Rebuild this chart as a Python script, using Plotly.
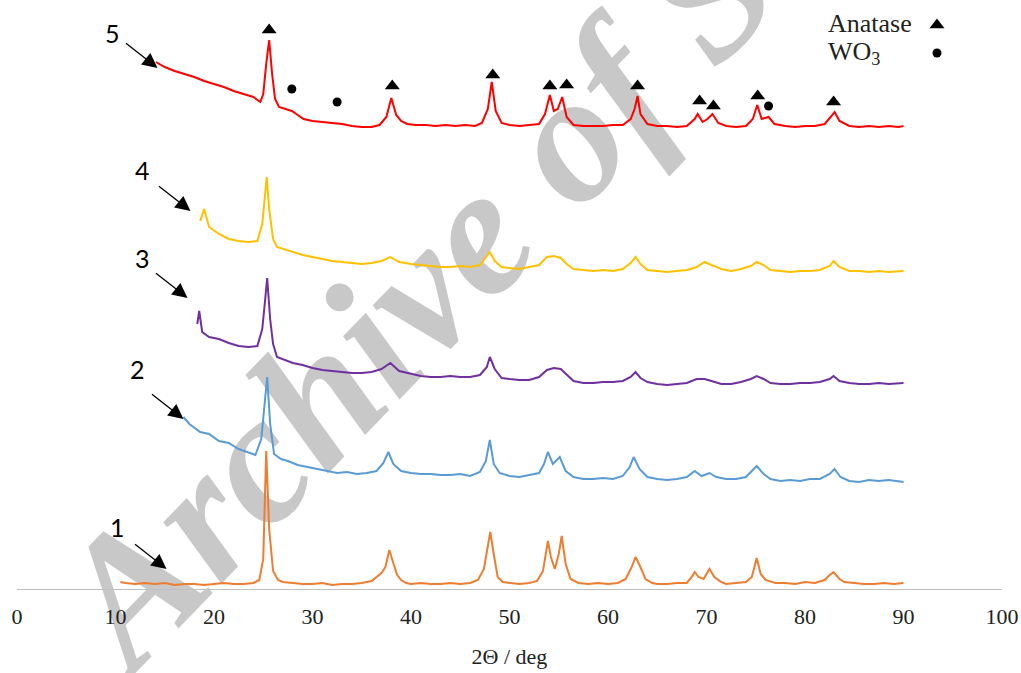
import plotly.graph_objects as go

# ---------------- data ----------------
x1 = [10.5, 11, 12, 13, 14, 15, 16, 17, 18, 19, 20, 21, 22, 23, 24, 24.6, 25.0, 25.3, 25.6, 26.0, 26.5, 27, 28, 29, 30,
      31, 32, 33, 34, 35, 36, 36.5, 37.0, 37.4, 37.8, 38.2, 38.6, 39.0, 39.5, 40, 41, 42, 43, 44, 45, 46, 46.8, 47.4,
      47.8, 48.05, 48.4, 48.8, 49.3, 50, 51, 52, 52.8, 53.4, 53.9, 54.2, 54.6, 55.0, 55.3, 55.7, 56.2, 57, 58, 59, 60,
      61, 61.8, 62.4, 62.8, 63.2, 63.8, 64.5, 65, 66, 67, 68, 68.5, 68.8, 69.2, 69.7, 70.3, 70.8, 71.5, 72, 73, 74,
      74.6, 75.1, 75.5, 76, 77, 78, 79, 80, 81, 82, 82.5, 82.9, 83.5, 84, 85, 86, 87, 88, 89, 90]
y1 = [7, 6, 5, 6, 5, 6, 4, 5, 5, 4, 5, 6, 5, 5, 6, 9, 30, 138, 60, 18, 9, 7, 6, 5, 5,
      6, 4, 5, 5, 6, 8, 12, 16, 22, 39, 26, 14, 9, 6, 5, 6, 5, 5, 6, 5, 6, 9, 20,
      45, 57, 35, 12, 7, 6, 5, 6, 8, 18, 48, 32, 20, 35, 53, 25, 10, 6, 5, 6, 5,
      6, 10, 22, 32, 24, 10, 6, 5, 5, 6, 6, 12, 17, 12, 10, 20, 12, 7, 5, 6, 7,
      12, 31, 15, 9, 6, 6, 5, 7, 6, 9, 14, 17, 10, 7, 6, 5, 5, 6, 5, 6]

x2 = [16.9, 17.5, 18.6, 19.5, 20.5, 21.5, 22.5, 23.5, 24.2, 24.8, 25.2, 25.4, 25.7, 26.1, 26.8, 27.5, 28.5, 29.5, 30.5,
      31.5, 32.5, 33.5, 34.5, 35.5, 36.5, 37.2, 37.7, 38.2, 39, 40, 41, 42, 43, 44, 45, 46, 47, 47.6, 48, 48.4, 49,
      50, 51, 52, 53, 53.5, 53.9, 54.4, 55.1, 55.7, 56.5, 57.5, 58.5, 59.5, 60.5, 61.5, 62.2, 62.6, 63.2, 64, 65, 66,
      67, 68, 68.8, 69.5, 70.3, 71, 72, 73, 74, 74.6, 75.1, 75.8, 76.5, 77.5, 78.5, 79.5, 80.5, 81.5, 82.5, 83, 83.6,
      84.5, 85.5, 86.5, 87.5, 88.5, 89.5, 90]
y2 = [172, 165, 157, 155, 148, 146, 140, 136, 134, 150, 190, 212, 165, 135, 130, 128, 124, 122, 120,
      118, 116, 117, 115, 116, 118, 126, 137, 125, 118, 116, 115, 115, 114, 114, 115, 113, 117, 128, 149, 125, 116,
      113, 112, 114, 116, 125, 137, 125, 132, 118, 112, 110, 110, 111, 110, 113, 122, 132, 120, 112, 110, 109,
      110, 112, 118, 113, 116, 112, 110, 110, 112, 118, 123, 115, 110, 108, 109, 108, 110, 110, 115, 120, 112,
      108, 107, 109, 108, 109, 108, 107]

x3 = [18.3, 18.5, 18.8, 19.5, 20.5, 21.5, 22.5, 23.5, 24.4, 24.9, 25.2, 25.4, 25.7, 26.0, 26.4, 27, 28, 29, 30, 31, 32,
      33, 34, 35, 36, 37, 37.9, 38.8, 40, 41, 42, 43, 44, 45, 46, 47, 47.7, 48, 48.5, 49.2, 50, 51, 52, 53, 53.8, 54.5,
      55.2, 55.8, 56.5, 57.5, 58.5, 59.5, 60.5, 61.5, 62.3, 62.8, 63.3, 64, 65, 66, 67, 68, 69, 69.8, 70.5, 71.5, 72.5,
      73.5, 74.5, 75.1, 75.8, 76.5, 77.5, 78.5, 79.5, 80.5, 81.5, 82.5, 82.9, 83.5, 84.5, 85.5, 86.5, 87.5, 88.5,
      89.5, 90]
y3 = [265, 278, 257, 252, 250, 246, 243, 242, 243, 260, 290, 311, 270, 245, 232, 230, 226, 224, 221, 219, 218,
      217, 216, 216, 217, 220, 226, 218, 215, 213, 212, 212, 213, 212, 212, 214, 222, 232, 220, 211, 210, 209, 209,
      212, 219, 221, 220, 214, 208, 206, 206, 207, 207, 208, 212, 217, 211, 207, 205, 204, 205, 206, 210, 210, 208,
      205, 205, 207, 210, 213, 210, 206, 205, 205, 206, 206, 207, 210, 213, 208, 206, 205, 205, 206, 205, 206, 206]

x4 = [18.6, 19, 19.5, 20.5, 21.5, 22.5, 23.5, 24.4, 24.9, 25.2, 25.35, 25.6, 26.0, 26.4, 27, 28, 29, 30, 31, 32, 33,
      34, 35, 36, 37, 37.9, 38.8, 40, 41, 42, 43, 44, 45, 46, 47, 47.7, 48, 48.5, 49.2, 50, 51, 52, 53, 53.8, 54.5,
      55.2, 55.8, 56.5, 57.5, 58.5, 59.5, 60.5, 61.5, 62.3, 62.8, 63.3, 64, 65, 66, 67, 68, 69, 69.8, 70.5, 71.5,
      72.5, 73.5, 74.5, 75.1, 75.8, 76.5, 77.5, 78.5, 79.5, 80.5, 81.5, 82.5, 82.9, 83.5, 84.5, 85.5, 86.5, 87.5,
      88.5, 89.5, 90]
y4 = [368, 380, 362, 355, 350, 348, 347, 348, 365, 395, 412, 380, 350, 342, 340, 337, 334, 332, 330, 328, 327,
      326, 325, 326, 328, 332, 327, 325, 324, 323, 322, 322, 323, 322, 324, 333, 337, 328, 322, 321, 320, 322, 324,
      332, 333, 331, 325, 320, 319, 318, 319, 318, 320, 326, 332, 325, 319, 318, 317, 318, 319, 322, 327, 324, 320,
      318, 320, 323, 327, 324, 319, 318, 317, 318, 318, 319, 323, 328, 322, 318, 318, 317, 318, 317, 318, 318]

x5 = [14.1, 15, 16, 17, 18, 19, 20, 21, 22, 23, 24, 24.7, 25.0, 25.3, 25.6, 25.9, 26.2, 26.6, 27.2, 27.9, 28.5, 29.1,
      30, 31, 32, 33, 34, 35, 36, 36.8, 37.5, 38, 38.5, 39, 39.6, 40.5, 41.5, 42.5, 43.5, 44.5, 45.5, 46.5, 47.2,
      47.8, 48.2, 48.6, 49.2, 50, 51, 52, 53, 53.6, 54.1, 54.5, 54.9, 55.35, 55.8, 56.5, 57.5, 58.5, 59.5, 60.5,
      61.5, 62.3, 62.7, 63.0, 63.3, 64, 65, 66, 67, 68, 68.8, 69.1, 69.6, 70.1, 70.6, 71.2, 72, 73, 74, 74.7, 75.15,
      75.6, 76.3, 76.9, 78, 79, 80, 81, 82, 82.6, 83, 83.5, 84.5, 85.5, 86.5, 87.5, 88.5, 89.5, 90]
y5 = [527, 522, 518, 515, 512, 508, 505, 502, 498, 495, 492, 487, 495, 525, 549, 515, 490, 482, 480, 478, 474, 470,
      468, 467, 466, 465, 463, 462, 462, 464, 472, 491, 474, 468, 465, 464, 464, 463, 464, 463, 464, 463, 466,
      480, 507, 478, 466, 464, 463, 464, 465, 475, 494, 478, 480, 492, 472, 464, 463, 463, 463, 464,
      464, 470, 480, 493, 475, 465, 463, 463, 462, 463, 470, 475, 467, 470, 475, 466, 463, 462, 463, 470, 484,
      470, 472, 465, 463, 462, 463, 463, 465, 472, 477, 468, 463, 462, 463, 462, 463, 462, 463]

anatase_x = [25.6, 38.1, 48.3, 54.1, 55.8, 63.0, 69.3, 70.7, 75.2, 82.9]
anatase_y = [559, 503, 514, 503, 504, 503, 488, 483, 493, 487]
wo3_x = [27.9, 32.5, 76.3]
wo3_y = [500, 487, 483]

tick_vals = [0, 10, 20, 30, 40, 50, 60, 70, 80, 90, 100]

series = [
    ("1", x1, y1, "#ED7D31"),
    ("2", x2, y2, "#5B9BD5"),
    ("3", x3, y3, "#7030A0"),
    ("4", x4, y4, "#FFC000"),
    ("5", x5, y5, "#FF0000"),
]

fig = go.Figure()
for name, xs, ys, col in series:
    fig.add_trace(go.Scatter(x=xs, y=ys, mode="lines", name=name,
                             line=dict(color=col, width=2.0), showlegend=False,
                             hoverinfo="skip"))

fig.add_trace(go.Scatter(x=anatase_x, y=anatase_y, mode="markers", showlegend=False,
                         marker=dict(symbol="triangle-up", size=13, color="black")))
fig.add_trace(go.Scatter(x=wo3_x, y=wo3_y, mode="markers", showlegend=False,
                         marker=dict(symbol="circle", size=9, color="black")))
# legend symbols
fig.add_trace(go.Scatter(x=[93.4], y=[564], mode="markers", showlegend=False,
                         marker=dict(symbol="triangle-up", size=13, color="black")))
fig.add_trace(go.Scatter(x=[93.4], y=[536], mode="markers", showlegend=False,
                         marker=dict(symbol="circle", size=9, color="black")))

serif = "Liberation Serif, Times New Roman, serif"

# watermark as a label of an invisible paper-referenced shape drawn below the data
fig.add_shape(type="rect", xref="paper", yref="paper", x0=0.452, x1=0.472, y0=0.64, y1=0.66,
              line=dict(width=0), fillcolor="rgba(0,0,0,0)", layer="below",
              label=dict(text="Archive of SID", textangle=-46, textposition="middle center",
                         font=dict(family=serif, size=184, color="rgb(200,200,200)",
                                   style="italic", weight="bold")))

ann = []
ann.append(dict(x=82.1, y=566, text="Anatase", showarrow=False, xanchor="left", yanchor="middle",
                font=dict(family=serif, size=26, color="#222")))
ann.append(dict(x=82.1, y=536, text="WO<sub>3</sub>", showarrow=False, xanchor="left", yanchor="middle",
                font=dict(family=serif, size=26, color="#222")))

# numbered labels with arrows: (label, tip_x, tip_y, text_x, text_y)
labels = [
    ("5", 14.26, 521, 9.7, 556),
    ("4", 17.61, 378, 12.74, 419),
    ("3", 17.31, 291, 12.74, 331),
    ("2", 16.9, 170, 12.23, 220),
    ("1", 15.18, 20, 10.2, 62),
]
for lab, tx, ty, lx, ly in labels:
    ann.append(dict(x=tx, y=ty, ax=-33, ay=-26, text="", showarrow=True,
                    arrowhead=2, arrowsize=2.3, arrowwidth=1.3, arrowcolor="black"))
    ann.append(dict(x=lx, y=ly, text=lab, showarrow=False,
                    font=dict(family="Lato, sans-serif", size=25, color="black")))

fig.update_layout(
    width=1021, height=673,
    margin=dict(l=17, r=19, t=0, b=84),
    paper_bgcolor="white", plot_bgcolor="rgba(0,0,0,0)",
    annotations=ann,
    xaxis=dict(range=[0, 100], tickvals=tick_vals, showgrid=False, zeroline=False,
               showline=True, linecolor="#BFBFBF", linewidth=1,
               ticks="outside", ticklen=8, tickcolor="rgba(0,0,0,0)",
               tickfont=dict(family=serif, size=22, color="#222"),
               title=dict(text="2\u0398 / deg", font=dict(family=serif, size=22, color="#222"),
                          standoff=20)),
    yaxis=dict(range=[0, 589], visible=False),
)

fig.write_html("out.html")
